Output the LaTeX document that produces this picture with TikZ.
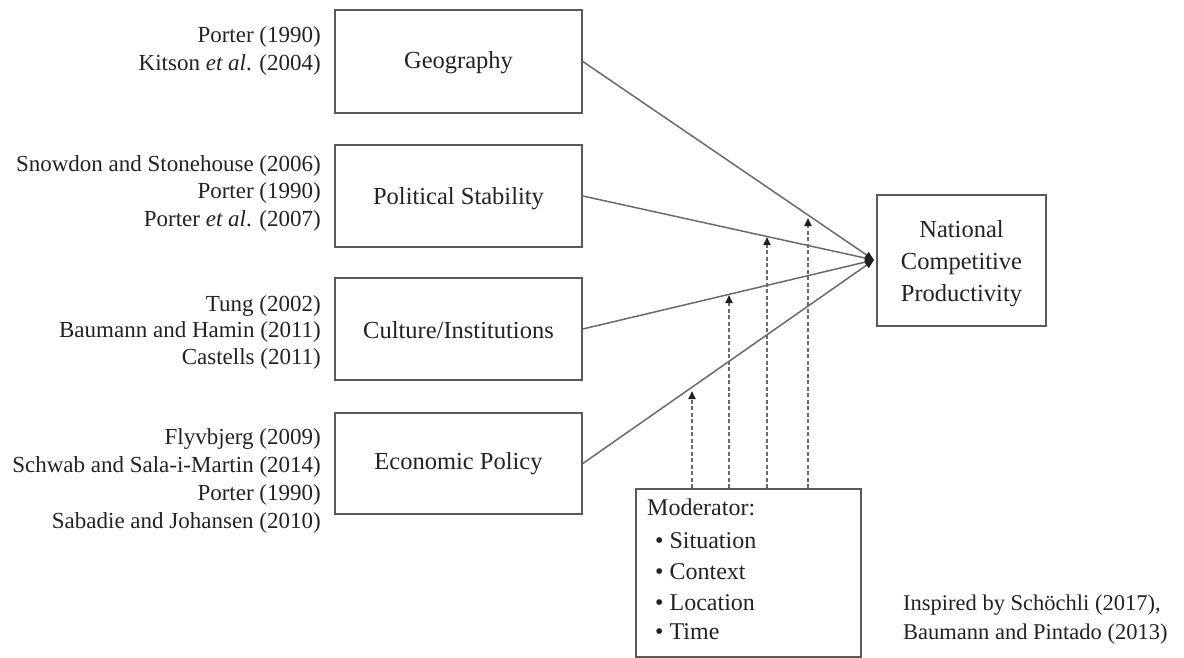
\documentclass[tikz,border=0pt]{standalone}
\usepackage{fontspec}
\setmainfont{Liberation Serif}
\usetikzlibrary{arrows.meta}
\definecolor{txt}{HTML}{222222}
\definecolor{edge}{HTML}{5A5A5A}
\definecolor{conn}{HTML}{6A6A6A}
\definecolor{tip}{HTML}{202020}
\begin{document}
\begin{tikzpicture}[x=1pt,y=-1pt,
  every node/.style={text=txt,font=\fontsize{23}{27.5}\selectfont},
  box/.style={draw=edge,line width=1.6pt,minimum width=247pt,inner sep=0pt},
  lbl/.style={font=\fontsize{24.5}{32}\selectfont},
  refs/.style={anchor=east,align=right,inner sep=0pt},
  modline/.style={anchor=base west,inner sep=0pt,font=\fontsize{24}{31}\selectfont},
  link/.style={draw=conn,line width=1.5pt,-{Triangle[length=9pt,width=7pt,color=tip]}},
  mod/.style={draw=conn,line width=1.8pt,dash pattern=on 4pt off 2.5pt,-{Triangle[length=8pt,width=7pt,color=tip]}}]
\useasboundingbox (0,0) rectangle (1184,657);
% boxes
\node[box,minimum height=103pt] (geo) at (458.5,61.5) {};
\node[lbl] (lgeo) at (458.5,63) {Geography};
\node[box,minimum height=102pt] (pol) at (458.5,196) {};
\node[lbl] (lpol) at (458.5,198.5) {Political Stability};
\node[box,minimum height=102pt] (cul) at (458.5,329) {};
\node[lbl] (lcul) at (458.5,330) {Culture/Institutions};
\node[box,minimum height=101pt] (eco) at (458.5,463.5) {};
\node[lbl] (leco) at (458.5,463.5) {Economic Policy};
\node[box,minimum width=169pt,minimum height=131pt] (ncp) at (961.5,260.5) {};
\node[lbl,align=center] (lncp) at (961.5,263.5) {National\\Competitive\\Productivity};
\node[box,minimum width=225pt,minimum height=168pt] (modbox) at (748.5,573) {};
% references
\node[refs] (rgeo) at (321,51) {Porter (1990)\\Kitson \textit{et al}. (2004)};
\node[refs,font=\fontsize{23}{27.5}\selectfont] (rpol) at (321,193) {Snowdon and Stonehouse (2006)\\Porter (1990)\\Porter \textit{et al}. (2007)};
\node[refs,font=\fontsize{23}{26.5}\selectfont] (rcul) at (321,332) {Tung (2002)\\Baumann and Hamin (2011)\\Castells (2011)};
\node[refs,font=\fontsize{23}{27.7}\selectfont] (reco) at (321,481) {Flyvbjerg (2009)\\Schwab and Sala-i-Martin (2014)\\Porter (1990)\\Sabadie and Johansen (2010)};
% moderator text
\node[modline] (m0) at (647,515) {Moderator:};
\node[modline] (m1) at (655,548) {\textbullet\ Situation};
\node[modline] (m2) at (655,579.5) {\textbullet\ Context};
\node[modline] (m3) at (655,610) {\textbullet\ Location};
\node[modline] (m4) at (655,639.5) {\textbullet\ Time};
% credit
\node[anchor=west,align=left,inner sep=0pt,font=\fontsize{22.5}{29}\selectfont] (credit) at (903,619.5)
  {Inspired by Schöchli (2017),\\Baumann and Pintado (2013)};
% connectors
\coordinate (j) at (874,260);
\draw[link] (geo.east) -- (j);
\draw[link] (pol.east) -- (j);
\draw[link] (cul.east) -- (j);
\draw[link] (eco.east) -- (j);
\coordinate (t1) at (692,391);
\coordinate (t2) at (729,295);
\coordinate (t3) at (767,237);
\coordinate (t4) at (808,218);
\foreach \t in {t1,t2,t3,t4}{\draw[mod] (\t |- modbox.north) -- (\t);}
\end{tikzpicture}
\end{document}
